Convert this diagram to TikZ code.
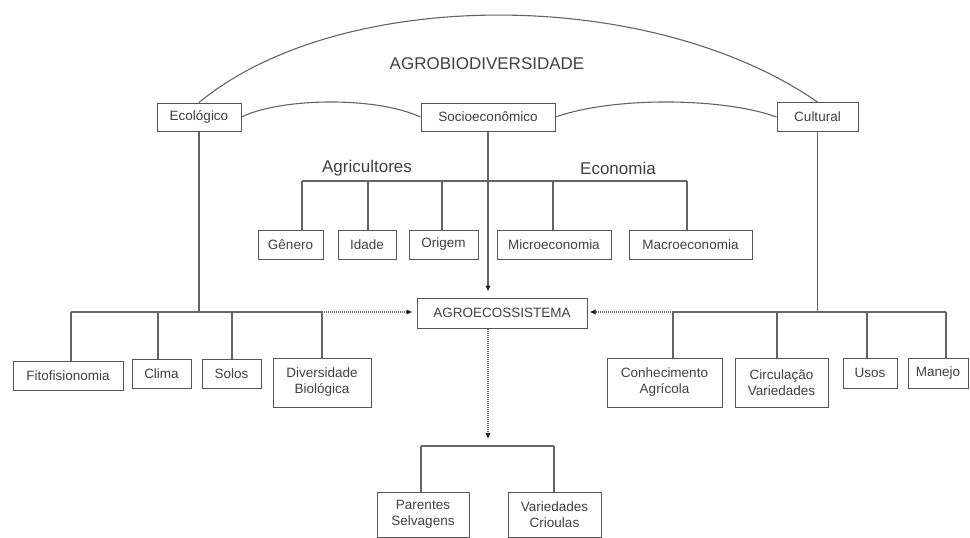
\documentclass[tikz,border=0pt]{standalone}
\usepackage{fontspec}
\setmainfont{Liberation Sans}
\usetikzlibrary{arrows.meta}
\definecolor{lnc}{RGB}{100,100,100}
\definecolor{boxc}{RGB}{85,85,85}
\definecolor{txtc}{RGB}{65,65,65}
\definecolor{tipc}{RGB}{30,30,30}
\tikzset{
  box/.style={draw=boxc, line width=1pt, inner sep=0pt, align=center, text=txtc,
    font=\fontsize{13.5}{16}\selectfont},
  ln/.style={draw=lnc, line width=1.1pt},
  dotln/.style={draw=lnc, line width=1.2pt, dash pattern=on 1pt off 1pt},
  tip/.style={-{Latex[length=6pt,width=5.5pt,color=tipc]}},
  biglabel/.style={text=txtc, font=\fontsize{17}{20}\selectfont, inner sep=0pt}
}
\begin{document}
\begin{tikzpicture}[x=1pt,y=-1pt]
\useasboundingbox[fill=white] (0,0) rectangle (970,538);

% title
\node[biglabel] (title) at (487,64) {AGROBIODIVERSIDADE};

% top level
\node[box, minimum width=84pt, minimum height=28pt] (eco) at (199,117) {Ecológico};
\node[box, minimum width=134pt, minimum height=28pt] (soc) at (488,117) {Socioeconômico};
\node[box, minimum width=81pt, minimum height=29pt] (cul) at (817.5,117) {Cultural};

% arcs
\draw[ln] (eco.north) .. controls (340,-14) and (650,-14) .. (cul.north);
\draw[ln] (eco.east) .. controls (280,98) and (375,96) .. (soc.west);
\draw[ln] (soc.east) .. controls (615,96) and (725,98) .. (cul.west);

% socioeconomic level
\node[biglabel] (agri) at (367,168) {Agricultores};
\node[biglabel] (econ) at (618,168) {Economia};
\node[box, minimum width=65pt, minimum height=29pt] (gen) at (290.5,244.5) {Gênero};
\node[box, minimum width=58pt, minimum height=29pt] (ida) at (367,244.5) {Idade};
\node[box, minimum width=69pt, minimum height=29pt] (ori) at (443.5,244.5) {Origem};
\node[box, minimum width=114pt, minimum height=29pt] (mic) at (554,244.5) {Microeconomia};
\node[box, minimum width=123pt, minimum height=29pt] (mac) at (690.5,244.5) {Macroeconomia};
\coordinate (ab1) at (302,181);
\coordinate (ab2) at (368,181);
\coordinate (ab3) at (442,181);
\coordinate (ab4) at (553,181);
\coordinate (ab5) at (687,181);
\draw[ln] (ab1) -- (ab5);
\draw[ln] (ab1) -- (ab1 |- gen.north);
\draw[ln] (ab2) -- (ab2 |- ida.north);
\draw[ln] (ab3) -- (ab3 |- ori.north);
\draw[ln] (ab4) -- (ab4 |- mic.north);
\draw[ln] (ab5) -- (ab5 |- mac.north);

% agroecossistema
\node[box, minimum width=170pt, minimum height=30pt] (agro) at (502,313) {AGROECOSSISTEMA};
\draw[ln, tip, shorten >=6pt] (soc.south) -- (soc.south |- agro.north);

% ecological branch
\node[box, minimum width=110pt, minimum height=29pt] (fito) at (68,375.5) {Fitofisionomia};
\node[box, minimum width=59pt, minimum height=29pt] (cli) at (161.5,373.5) {Clima};
\node[box, minimum width=59pt, minimum height=29pt] (sol) at (231.5,373.5) {Solos};
\node[box, minimum width=98pt, minimum height=49pt] (div) at (322,382.5) {Diversidade\\Biológica};
\coordinate (lb1) at (71,312);
\coordinate (lb2) at (158,312);
\coordinate (lb3) at (232,312);
\coordinate (lb4) at (322,312);
\draw[ln] (eco.south) -- (eco.south |- lb1);
\draw[ln] (lb1) -- (lb4);
\draw[ln] (lb1) -- (lb1 |- fito.north);
\draw[ln] (lb2) -- (lb2 |- cli.north);
\draw[ln] (lb3) -- (lb3 |- sol.north);
\draw[ln] (lb4) -- (lb4 |- div.north);
\draw[dotln, tip, shorten >=4pt] (lb4) -- (agro.west |- lb4);

% cultural branch
\node[box, minimum width=115pt, minimum height=49pt] (con) at (664.5,382.5) {Conhecimento\\Agrícola};
\node[box, minimum width=93pt, minimum height=49pt] (cir) at (781.5,382.5) {Circulação\\Variedades};
\node[box, minimum width=54pt, minimum height=30pt] (uso) at (870,373) {Usos};
\node[box, minimum width=60pt, minimum height=30pt] (man) at (938,373) {Manejo};
\coordinate (rb1) at (673,312);
\coordinate (rb2) at (777,312);
\coordinate (rb3) at (867,312);
\coordinate (rb4) at (946,312);
\draw[ln] (cul.south) -- (cul.south |- rb1);
\draw[ln] (rb1) -- (rb4);
\draw[ln] (rb1) -- (rb1 |- con.north);
\draw[ln] (rb2) -- (rb2 |- cir.north);
\draw[ln] (rb3) -- (rb3 |- uso.north);
\draw[ln] (rb4) -- (rb4 |- man.north);
\draw[dotln, tip, shorten >=2pt] (rb1) -- (agro.east |- rb1);

% bottom branch
\node[box, minimum width=92pt, minimum height=45pt] (par) at (423,514.5) {Parentes\\Selvagens};
\node[box, minimum width=93pt, minimum height=45pt] (var) at (554.5,514.5) {Variedades\\Crioulas};
\coordinate (bb1) at (421,446);
\coordinate (bb2) at (554,446);
\coordinate (bm) at (488,446);
\draw[dotln, tip, shorten >=7pt] (agro.south -| bm) -- (bm);
\draw[ln] (bb1) -- (bb2);
\draw[ln] (bb1) -- (bb1 |- par.north);
\draw[ln] (bb2) -- (bb2 |- var.north);
\end{tikzpicture}
\end{document}
